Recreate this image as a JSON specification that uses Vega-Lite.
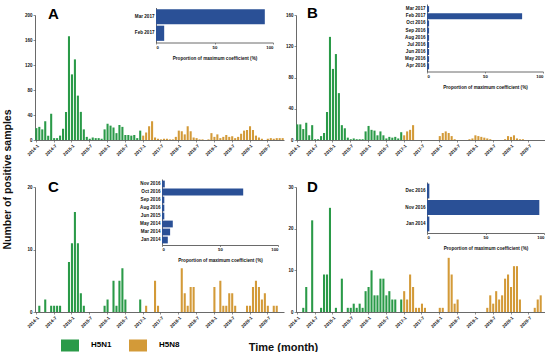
{
"$schema":"https://vega.github.io/schema/vega-lite/v6.json",
"background":"white",
"padding":{"left":2,"top":5,"right":0,"bottom":0},
"config":{"view":{"stroke":null},"font":"Liberation Sans",
"axis":{"labelFont":"Liberation Sans","labelFontSize":4.5,"labelFontWeight":"bold","labelColor":"#111","domainColor":"#444","domainWidth":0.8,"tickColor":"#444","tickWidth":0.6,"tickSize":2,"labelPadding":1,"grid":false,"titleFont":"Liberation Sans","titleFontWeight":"bold","titleColor":"#111"},
"title":{"font":"Liberation Sans","fontWeight":"bold","fontSize":15,"anchor":"start","frame":"group","color":"#000","baseline":"alphabetic"}},
"datasets":{
"A":[{"m":"2014-1","s":"H5N1","n":19},{"m":"2014-2","s":"H5N1","n":21},{"m":"2014-3","s":"H5N1","n":17},{"m":"2014-4","s":"H5N1","n":30},{"m":"2014-5","s":"H5N1","n":7},{"m":"2014-6","s":"H5N1","n":42},{"m":"2014-7","s":"H5N1","n":3},{"m":"2014-8","s":"H5N1","n":3},{"m":"2014-9","s":"H5N1","n":7},{"m":"2014-10","s":"H5N1","n":18},{"m":"2014-11","s":"H5N1","n":45},{"m":"2014-12","s":"H5N1","n":166},
{"m":"2015-1","s":"H5N1","n":105},{"m":"2015-2","s":"H5N1","n":129},{"m":"2015-3","s":"H5N1","n":71},{"m":"2015-4","s":"H5N1","n":45},{"m":"2015-5","s":"H5N1","n":17},{"m":"2015-6","s":"H5N1","n":5},{"m":"2015-7","s":"H5N1","n":2},{"m":"2015-8","s":"H5N1","n":4},{"m":"2015-9","s":"H5N1","n":3},{"m":"2015-10","s":"H5N1","n":3},{"m":"2015-11","s":"H5N1","n":2},{"m":"2015-12","s":"H5N1","n":17},
{"m":"2016-1","s":"H5N1","n":26},{"m":"2016-2","s":"H5N1","n":23},{"m":"2016-3","s":"H5N1","n":20},{"m":"2016-4","s":"H5N1","n":11},{"m":"2016-5","s":"H5N1","n":24},{"m":"2016-6","s":"H5N1","n":21},{"m":"2016-7","s":"H5N1","n":8},{"m":"2016-8","s":"H5N1","n":8},{"m":"2016-9","s":"H5N1","n":7},{"m":"2016-10","s":"H5N1","n":8},{"m":"2016-11","s":"H5N1","n":3},{"m":"2016-12","s":"H5N1","n":15},
{"m":"2017-1","s":"H5N8","n":7},{"m":"2017-2","s":"H5N8","n":12},{"m":"2017-3","s":"H5N8","n":22},{"m":"2017-4","s":"H5N8","n":30},{"m":"2017-5","s":"H5N8","n":4},{"m":"2017-6","s":"H5N8","n":2},{"m":"2017-7","s":"H5N8","n":1},{"m":"2017-8","s":"H5N8","n":2},{"m":"2017-9","s":"H5N8","n":2},{"m":"2017-10","s":"H5N8","n":1},{"m":"2017-11","s":"H5N8","n":1},{"m":"2017-12","s":"H5N8","n":5},
{"m":"2018-1","s":"H5N8","n":15},{"m":"2018-2","s":"H5N8","n":14},{"m":"2018-3","s":"H5N8","n":9},{"m":"2018-4","s":"H5N8","n":22},{"m":"2018-5","s":"H5N8","n":14},{"m":"2018-6","s":"H5N8","n":4},{"m":"2018-7","s":"H5N8","n":3},{"m":"2018-8","s":"H5N8","n":1},{"m":"2018-9","s":"H5N8","n":1},{"m":"2018-10","s":"H5N8","n":0},{"m":"2018-11","s":"H5N8","n":1},{"m":"2018-12","s":"H5N8","n":11},
{"m":"2019-1","s":"H5N8","n":5},{"m":"2019-2","s":"H5N8","n":9},{"m":"2019-3","s":"H5N8","n":3},{"m":"2019-4","s":"H5N8","n":5},{"m":"2019-5","s":"H5N8","n":8},{"m":"2019-6","s":"H5N8","n":5},{"m":"2019-7","s":"H5N8","n":6},{"m":"2019-8","s":"H5N8","n":3},{"m":"2019-9","s":"H5N8","n":5},{"m":"2019-10","s":"H5N8","n":10},{"m":"2019-11","s":"H5N8","n":15},{"m":"2019-12","s":"H5N8","n":16},
{"m":"2020-1","s":"H5N8","n":22},{"m":"2020-2","s":"H5N8","n":16},{"m":"2020-3","s":"H5N8","n":7},{"m":"2020-4","s":"H5N8","n":4},{"m":"2020-5","s":"H5N8","n":2},{"m":"2020-6","s":"H5N8","n":0},{"m":"2020-7","s":"H5N8","n":2},{"m":"2020-8","s":"H5N8","n":3},{"m":"2020-9","s":"H5N8","n":2},{"m":"2020-10","s":"H5N8","n":3},{"m":"2020-11","s":"H5N8","n":3},{"m":"2020-12","s":"H5N8","n":3}],
"B":[{"m":"2014-1","s":"H5N1","n":20},{"m":"2014-2","s":"H5N1","n":20},{"m":"2014-3","s":"H5N1","n":14},{"m":"2014-4","s":"H5N1","n":22},{"m":"2014-5","s":"H5N1","n":6},{"m":"2014-6","s":"H5N1","n":19},{"m":"2014-7","s":"H5N1","n":1},{"m":"2014-8","s":"H5N1","n":1},{"m":"2014-9","s":"H5N1","n":5},{"m":"2014-10","s":"H5N1","n":9},{"m":"2014-11","s":"H5N1","n":36},{"m":"2014-12","s":"H5N1","n":132},
{"m":"2015-1","s":"H5N1","n":91},{"m":"2015-2","s":"H5N1","n":110},{"m":"2015-3","s":"H5N1","n":60},{"m":"2015-4","s":"H5N1","n":19},{"m":"2015-5","s":"H5N1","n":15},{"m":"2015-6","s":"H5N1","n":3},{"m":"2015-7","s":"H5N1","n":1},{"m":"2015-8","s":"H5N1","n":2},{"m":"2015-9","s":"H5N1","n":1},{"m":"2015-10","s":"H5N1","n":1},{"m":"2015-11","s":"H5N1","n":1},{"m":"2015-12","s":"H5N1","n":11},
{"m":"2016-1","s":"H5N1","n":18},{"m":"2016-2","s":"H5N1","n":13},{"m":"2016-3","s":"H5N1","n":12},{"m":"2016-4","s":"H5N1","n":6},{"m":"2016-5","s":"H5N1","n":11},{"m":"2016-6","s":"H5N1","n":6},{"m":"2016-7","s":"H5N1","n":2},{"m":"2016-8","s":"H5N1","n":4},{"m":"2016-9","s":"H5N1","n":3},{"m":"2016-10","s":"H5N1","n":4},{"m":"2016-11","s":"H5N1","n":2},{"m":"2016-12","s":"H5N1","n":10},
{"m":"2017-1","s":"H5N8","n":6},{"m":"2017-2","s":"H5N8","n":11},{"m":"2017-3","s":"H5N8","n":13},{"m":"2017-4","s":"H5N8","n":19},{"m":"2017-5","s":"H5N8","n":0},{"m":"2017-6","s":"H5N8","n":0},{"m":"2017-7","s":"H5N8","n":0},{"m":"2017-8","s":"H5N8","n":0},{"m":"2017-9","s":"H5N8","n":0},{"m":"2017-10","s":"H5N8","n":0},{"m":"2017-11","s":"H5N8","n":0},{"m":"2017-12","s":"H5N8","n":0},
{"m":"2018-1","s":"H5N8","n":5},{"m":"2018-2","s":"H5N8","n":9},{"m":"2018-3","s":"H5N8","n":11},{"m":"2018-4","s":"H5N8","n":9},{"m":"2018-5","s":"H5N8","n":5},{"m":"2018-6","s":"H5N8","n":1},{"m":"2018-7","s":"H5N8","n":0},{"m":"2018-8","s":"H5N8","n":0},{"m":"2018-9","s":"H5N8","n":0},{"m":"2018-10","s":"H5N8","n":0},{"m":"2018-11","s":"H5N8","n":1},{"m":"2018-12","s":"H5N8","n":2},
{"m":"2019-1","s":"H5N8","n":6},{"m":"2019-2","s":"H5N8","n":5},{"m":"2019-3","s":"H5N8","n":4},{"m":"2019-4","s":"H5N8","n":3},{"m":"2019-5","s":"H5N8","n":2},{"m":"2019-6","s":"H5N8","n":1},{"m":"2019-7","s":"H5N8","n":0},{"m":"2019-8","s":"H5N8","n":0},{"m":"2019-9","s":"H5N8","n":0},{"m":"2019-10","s":"H5N8","n":0},{"m":"2019-11","s":"H5N8","n":1},{"m":"2019-12","s":"H5N8","n":5},
{"m":"2020-1","s":"H5N8","n":4},{"m":"2020-2","s":"H5N8","n":6},{"m":"2020-3","s":"H5N8","n":2},{"m":"2020-4","s":"H5N8","n":1},{"m":"2020-5","s":"H5N8","n":1},{"m":"2020-6","s":"H5N8","n":0},{"m":"2020-7","s":"H5N8","n":0},{"m":"2020-8","s":"H5N8","n":0},{"m":"2020-9","s":"H5N8","n":0},{"m":"2020-10","s":"H5N8","n":0},{"m":"2020-11","s":"H5N8","n":0},{"m":"2020-12","s":"H5N8","n":0}],
"C":[{"m":"2014-1","s":"H5N1","n":0},{"m":"2014-2","s":"H5N1","n":1},{"m":"2014-3","s":"H5N1","n":0},{"m":"2014-4","s":"H5N1","n":2},{"m":"2014-5","s":"H5N1","n":0},{"m":"2014-6","s":"H5N1","n":1},{"m":"2014-7","s":"H5N1","n":1},{"m":"2014-8","s":"H5N1","n":1},{"m":"2014-9","s":"H5N1","n":1},{"m":"2014-10","s":"H5N1","n":0},{"m":"2014-11","s":"H5N1","n":0},{"m":"2014-12","s":"H5N1","n":8},
{"m":"2015-1","s":"H5N1","n":11},{"m":"2015-2","s":"H5N1","n":16},{"m":"2015-3","s":"H5N1","n":11},{"m":"2015-4","s":"H5N1","n":3},{"m":"2015-5","s":"H5N1","n":1},{"m":"2015-6","s":"H5N1","n":0},{"m":"2015-7","s":"H5N1","n":0},{"m":"2015-8","s":"H5N1","n":0},{"m":"2015-9","s":"H5N1","n":0},{"m":"2015-10","s":"H5N1","n":0},{"m":"2015-11","s":"H5N1","n":0},{"m":"2015-12","s":"H5N1","n":1},
{"m":"2016-1","s":"H5N1","n":2},{"m":"2016-2","s":"H5N1","n":0},{"m":"2016-3","s":"H5N1","n":5},{"m":"2016-4","s":"H5N1","n":1},{"m":"2016-5","s":"H5N1","n":5},{"m":"2016-6","s":"H5N1","n":7},{"m":"2016-7","s":"H5N1","n":2},{"m":"2016-8","s":"H5N1","n":0},{"m":"2016-9","s":"H5N1","n":0},{"m":"2016-10","s":"H5N1","n":0},{"m":"2016-11","s":"H5N1","n":0},{"m":"2016-12","s":"H5N1","n":2},
{"m":"2017-1","s":"H5N8","n":0},{"m":"2017-2","s":"H5N8","n":1},{"m":"2017-3","s":"H5N8","n":0},{"m":"2017-4","s":"H5N8","n":0},{"m":"2017-5","s":"H5N8","n":5},{"m":"2017-6","s":"H5N8","n":1},{"m":"2017-7","s":"H5N8","n":0},{"m":"2017-8","s":"H5N8","n":0},{"m":"2017-9","s":"H5N8","n":0},{"m":"2017-10","s":"H5N8","n":0},{"m":"2017-11","s":"H5N8","n":0},{"m":"2017-12","s":"H5N8","n":0},
{"m":"2018-1","s":"H5N8","n":0},{"m":"2018-2","s":"H5N8","n":7},{"m":"2018-3","s":"H5N8","n":3},{"m":"2018-4","s":"H5N8","n":1},{"m":"2018-5","s":"H5N8","n":4},{"m":"2018-6","s":"H5N8","n":4},{"m":"2018-7","s":"H5N8","n":0},{"m":"2018-8","s":"H5N8","n":0},{"m":"2018-9","s":"H5N8","n":0},{"m":"2018-10","s":"H5N8","n":0},{"m":"2018-11","s":"H5N8","n":0},{"m":"2018-12","s":"H5N8","n":0},
{"m":"2019-1","s":"H5N8","n":4},{"m":"2019-2","s":"H5N8","n":0},{"m":"2019-3","s":"H5N8","n":5},{"m":"2019-4","s":"H5N8","n":1},{"m":"2019-5","s":"H5N8","n":1},{"m":"2019-6","s":"H5N8","n":3},{"m":"2019-7","s":"H5N8","n":3},{"m":"2019-8","s":"H5N8","n":1},{"m":"2019-9","s":"H5N8","n":0},{"m":"2019-10","s":"H5N8","n":0},{"m":"2019-11","s":"H5N8","n":0},{"m":"2019-12","s":"H5N8","n":1},
{"m":"2020-1","s":"H5N8","n":1},{"m":"2020-2","s":"H5N8","n":4},{"m":"2020-3","s":"H5N8","n":5},{"m":"2020-4","s":"H5N8","n":4},{"m":"2020-5","s":"H5N8","n":2},{"m":"2020-6","s":"H5N8","n":3},{"m":"2020-7","s":"H5N8","n":1},{"m":"2020-8","s":"H5N8","n":0},{"m":"2020-9","s":"H5N8","n":1},{"m":"2020-10","s":"H5N8","n":1},{"m":"2020-11","s":"H5N8","n":0},{"m":"2020-12","s":"H5N8","n":0}],
"D":[{"m":"2014-1","s":"H5N1","n":0},{"m":"2014-2","s":"H5N1","n":0},{"m":"2014-3","s":"H5N1","n":1},{"m":"2014-4","s":"H5N1","n":6},{"m":"2014-5","s":"H5N1","n":0},{"m":"2014-6","s":"H5N1","n":22},{"m":"2014-7","s":"H5N1","n":0},{"m":"2014-8","s":"H5N1","n":0},{"m":"2014-9","s":"H5N1","n":1},{"m":"2014-10","s":"H5N1","n":9},{"m":"2014-11","s":"H5N1","n":9},{"m":"2014-12","s":"H5N1","n":25},
{"m":"2015-1","s":"H5N1","n":0},{"m":"2015-2","s":"H5N1","n":1},{"m":"2015-3","s":"H5N1","n":0},{"m":"2015-4","s":"H5N1","n":8},{"m":"2015-5","s":"H5N1","n":0},{"m":"2015-6","s":"H5N1","n":1},{"m":"2015-7","s":"H5N1","n":1},{"m":"2015-8","s":"H5N1","n":2},{"m":"2015-9","s":"H5N1","n":1},{"m":"2015-10","s":"H5N1","n":2},{"m":"2015-11","s":"H5N1","n":1},{"m":"2015-12","s":"H5N1","n":5},
{"m":"2016-1","s":"H5N1","n":6},{"m":"2016-2","s":"H5N1","n":10},{"m":"2016-3","s":"H5N1","n":4},{"m":"2016-4","s":"H5N1","n":4},{"m":"2016-5","s":"H5N1","n":8},{"m":"2016-6","s":"H5N1","n":8},{"m":"2016-7","s":"H5N1","n":4},{"m":"2016-8","s":"H5N1","n":5},{"m":"2016-9","s":"H5N1","n":3},{"m":"2016-10","s":"H5N1","n":3},{"m":"2016-11","s":"H5N1","n":0},{"m":"2016-12","s":"H5N1","n":3},
{"m":"2017-1","s":"H5N8","n":5},{"m":"2017-2","s":"H5N8","n":3},{"m":"2017-3","s":"H5N8","n":9},{"m":"2017-4","s":"H5N8","n":6},{"m":"2017-5","s":"H5N8","n":1},{"m":"2017-6","s":"H5N8","n":1},{"m":"2017-7","s":"H5N8","n":2},{"m":"2017-8","s":"H5N8","n":1},{"m":"2017-9","s":"H5N8","n":0},{"m":"2017-10","s":"H5N8","n":0},{"m":"2017-11","s":"H5N8","n":0},{"m":"2017-12","s":"H5N8","n":0},
{"m":"2018-1","s":"H5N8","n":1},{"m":"2018-2","s":"H5N8","n":1},{"m":"2018-3","s":"H5N8","n":0},{"m":"2018-4","s":"H5N8","n":13},{"m":"2018-5","s":"H5N8","n":9},{"m":"2018-6","s":"H5N8","n":2},{"m":"2018-7","s":"H5N8","n":3},{"m":"2018-8","s":"H5N8","n":0},{"m":"2018-9","s":"H5N8","n":0},{"m":"2018-10","s":"H5N8","n":0},{"m":"2018-11","s":"H5N8","n":0},{"m":"2018-12","s":"H5N8","n":0},
{"m":"2019-1","s":"H5N8","n":0},{"m":"2019-2","s":"H5N8","n":0},{"m":"2019-3","s":"H5N8","n":0},{"m":"2019-4","s":"H5N8","n":0},{"m":"2019-5","s":"H5N8","n":1},{"m":"2019-6","s":"H5N8","n":4},{"m":"2019-7","s":"H5N8","n":2},{"m":"2019-8","s":"H5N8","n":5},{"m":"2019-9","s":"H5N8","n":3},{"m":"2019-10","s":"H5N8","n":4},{"m":"2019-11","s":"H5N8","n":8},{"m":"2019-12","s":"H5N8","n":9},
{"m":"2020-1","s":"H5N8","n":6},{"m":"2020-2","s":"H5N8","n":11},{"m":"2020-3","s":"H5N8","n":11},{"m":"2020-4","s":"H5N8","n":3},{"m":"2020-5","s":"H5N8","n":0},{"m":"2020-6","s":"H5N8","n":0},{"m":"2020-7","s":"H5N8","n":0},{"m":"2020-8","s":"H5N8","n":0},{"m":"2020-9","s":"H5N8","n":1},{"m":"2020-10","s":"H5N8","n":3},{"m":"2020-11","s":"H5N8","n":4},{"m":"2020-12","s":"H5N8","n":0}],
"Ai":[{"d":"Mar 2017","v":93},{"d":"Feb 2017","v":7}],
"Bi":[{"d":"Mar 2017","v":1.8},{"d":"Feb 2017","v":82},{"d":"Oct 2016","v":1.8},{"d":"Sep 2016","v":1.8},{"d":"Aug 2016","v":1.8},{"d":"Jul 2016","v":1.8},{"d":"Jun 2016","v":1.8},{"d":"May 2016","v":1.8},{"d":"Apr 2016","v":1.8}],
"Ci":[{"d":"Nov 2016","v":2.4},{"d":"Oct 2016","v":70},{"d":"Sep 2016","v":2},{"d":"Aug 2016","v":2},{"d":"Jun 2015","v":2},{"d":"May 2014","v":9.3},{"d":"Mar 2014","v":7},{"d":"Jan 2014","v":5}],
"Di":[{"d":"Dec 2016","v":2},{"d":"Nov 2016","v":96},{"d":"Jan 2014","v":2}]
},
"columns":2,
"spacing":{"row":47,"column":12},
"bounds":"flush",
"concat":[
{"width":249,"height":125,
"title":{"text":"A","dx":13,"offset":-13},
"layer":[
{"data":{"name":"A"},"mark":{"type":"bar"},
"encoding":{
"x":{"field":"m","type":"ordinal","sort":null,"scale":{"paddingInner":0.3,"paddingOuter":0.1},"axis":{"values":["2014-1","2014-7","2015-1","2015-7","2016-1","2016-7","2017-1","2017-7","2018-1","2018-7","2019-1","2019-7","2020-1","2020-7"],"labelAngle":-45,"title":null}},
"y":{"field":"n","type":"quantitative","scale":{"domain":[0,200],"nice":false},"axis":{"values":[0,40,80,120,160,200],"title":"Number of positive samples","titleFontSize":10.5,"titleAngle":-90,"titleAlign":"center","titleBaseline":"alphabetic","titleX":-25,"titleY":164}},
"color":{"field":"s","type":"nominal","scale":{"domain":["H5N1","H5N8"],"range":["#2a9a48","#d39a38"]},"legend":{"orient":"none","legendX":26,"legendY":321,"direction":"horizontal","title":null,"symbolType":"M-1,-0.667H1V0.667H-1Z","symbolSize":324,"symbolStrokeWidth":0,"symbolOpacity":1,"labelFont":"Liberation Sans","labelFontSize":8,"labelFontWeight":"bold","labelOffset":12,"columnPadding":17}}}},
{"data":{"name":"Ai"},"mark":{"type":"bar","color":"#2a5096"},
"encoding":{
"x":{"field":"v","type":"quantitative","scale":{"domain":[0,100],"range":[121,238],"nice":false},"axis":{"orient":"bottom","offset":-97.5,"values":[0,50,100],"title":"Proportion of maximum coefficient (%)","titleFontSize":4.6,"titlePadding":6,"labelFontSize":4.3,"tickSize":1.5}},
"y":{"field":"d","type":"nominal","sort":null,"scale":{"range":[-7.5,27.5],"paddingInner":0.08,"paddingOuter":0.1},"axis":{"orient":"left","offset":-121,"title":null,"ticks":false,"labelPadding":2,"labelFontSize":4.6}}}}
],
"resolve":{"scale":{"x":"independent","y":"independent"}}},
{"width":249,"height":125,
"title":{"text":"B","dx":11,"offset":-15},
"layer":[
{"data":{"name":"B"},"mark":{"type":"bar"},
"encoding":{
"x":{"field":"m","type":"ordinal","sort":null,"scale":{"paddingInner":0.3,"paddingOuter":0.1},"axis":{"values":["2014-1","2014-7","2015-1","2015-7","2016-1","2016-7","2017-1","2017-7","2018-1","2018-7","2019-1","2019-7","2020-1","2020-7"],"labelAngle":-45,"title":null}},
"y":{"field":"n","type":"quantitative","scale":{"domain":[0,160],"nice":false},"axis":{"values":[0,40,80,120,160],"title":null}},
"color":{"field":"s","type":"nominal","scale":{"domain":["H5N1","H5N8"],"range":["#2a9a48","#d39a38"]},"legend":{"orient":"none","legendX":26,"legendY":321,"direction":"horizontal","title":null,"symbolType":"M-1,-0.667H1V0.667H-1Z","symbolSize":324,"symbolStrokeWidth":0,"symbolOpacity":1,"labelFont":"Liberation Sans","labelFontSize":8,"labelFontWeight":"bold","labelOffset":12,"columnPadding":17}}}},
{"data":{"name":"Bi"},"mark":{"type":"bar","color":"#2a5096"},
"encoding":{
"x":{"field":"v","type":"quantitative","scale":{"domain":[0,100],"range":[131,247],"nice":false},"axis":{"orient":"bottom","offset":-68.5,"values":[0,50,100],"title":"Proportion of maximum coefficient (%)","titleFontSize":4.6,"titlePadding":6,"labelFontSize":4.3,"tickSize":1.5}},
"y":{"field":"d","type":"nominal","sort":null,"scale":{"range":[-11,56.5],"paddingInner":0.15,"paddingOuter":0.3},"axis":{"orient":"left","offset":-131,"title":null,"ticks":false,"labelPadding":2,"labelFontSize":4.6}}}}
],
"resolve":{"scale":{"x":"independent","y":"independent"}}},
{"width":249,"height":125,
"title":{"text":"C","dx":13,"offset":-14},
"layer":[
{"data":{"name":"C"},"mark":{"type":"bar"},
"encoding":{
"x":{"field":"m","type":"ordinal","sort":null,"scale":{"paddingInner":0.3,"paddingOuter":0.1},"axis":{"values":["2014-1","2014-7","2015-1","2015-7","2016-1","2016-7","2017-1","2017-7","2018-1","2018-7","2019-1","2019-7","2020-1","2020-7"],"labelAngle":-45,"title":"Time (month)","titleFontSize":11,"titleAngle":0,"titleAlign":"center","titleBaseline":"middle","titleX":248,"titleY":35}},
"y":{"field":"n","type":"quantitative","scale":{"domain":[0,20],"nice":false},"axis":{"values":[0,10,20],"title":null}},
"color":{"field":"s","type":"nominal","scale":{"domain":["H5N1","H5N8"],"range":["#2a9a48","#d39a38"]},"legend":{"orient":"none","legendX":26,"legendY":321,"direction":"horizontal","title":null,"symbolType":"M-1,-0.667H1V0.667H-1Z","symbolSize":324,"symbolStrokeWidth":0,"symbolOpacity":1,"labelFont":"Liberation Sans","labelFontSize":8,"labelFontWeight":"bold","labelOffset":12,"columnPadding":17}}}},
{"data":{"name":"Ci"},"mark":{"type":"bar","color":"#2a5096"},
"encoding":{
"x":{"field":"v","type":"quantitative","scale":{"domain":[0,100],"range":[127,243],"nice":false},"axis":{"orient":"bottom","offset":-67,"values":[0,50,100],"title":"Proportion of maximum coefficient (%)","titleFontSize":4.6,"titlePadding":6,"labelFontSize":4.3,"tickSize":1.5}},
"y":{"field":"d","type":"nominal","sort":null,"scale":{"range":[-8,58],"paddingInner":0.15,"paddingOuter":0.2},"axis":{"orient":"left","offset":-127,"title":null,"ticks":false,"labelPadding":2,"labelFontSize":4.6}}}}
],
"resolve":{"scale":{"x":"independent","y":"independent"}}},
{"width":249,"height":125,
"title":{"text":"D","dx":11,"offset":-11},
"layer":[
{"data":{"name":"D"},"mark":{"type":"bar"},
"encoding":{
"x":{"field":"m","type":"ordinal","sort":null,"scale":{"paddingInner":0.3,"paddingOuter":0.1},"axis":{"values":["2014-1","2014-7","2015-1","2015-7","2016-1","2016-7","2017-1","2017-7","2018-1","2018-7","2019-1","2019-7","2020-1","2020-7"],"labelAngle":-45,"title":null}},
"y":{"field":"n","type":"quantitative","scale":{"domain":[0,30],"nice":false},"axis":{"values":[0,10,20,30],"title":null}},
"color":{"field":"s","type":"nominal","scale":{"domain":["H5N1","H5N8"],"range":["#2a9a48","#d39a38"]},"legend":{"orient":"none","legendX":26,"legendY":321,"direction":"horizontal","title":null,"symbolType":"M-1,-0.667H1V0.667H-1Z","symbolSize":324,"symbolStrokeWidth":0,"symbolOpacity":1,"labelFont":"Liberation Sans","labelFontSize":8,"labelFontWeight":"bold","labelOffset":12,"columnPadding":17}}}},
{"data":{"name":"Di"},"mark":{"type":"bar","color":"#2a5096"},
"encoding":{
"x":{"field":"v","type":"quantitative","scale":{"domain":[0,100],"range":[131,248],"nice":false},"axis":{"orient":"bottom","offset":-79,"values":[0,50,100],"title":"Proportion of maximum coefficient (%)","titleFontSize":4.6,"titlePadding":6,"labelFontSize":4.3,"tickSize":1.5}},
"y":{"field":"d","type":"nominal","sort":null,"scale":{"range":[-5,46],"paddingInner":0.1,"paddingOuter":0.1},"axis":{"orient":"left","offset":-131,"title":null,"ticks":false,"labelPadding":2,"labelFontSize":4.6}}}}
],
"resolve":{"scale":{"x":"independent","y":"independent"}}}
]
}
